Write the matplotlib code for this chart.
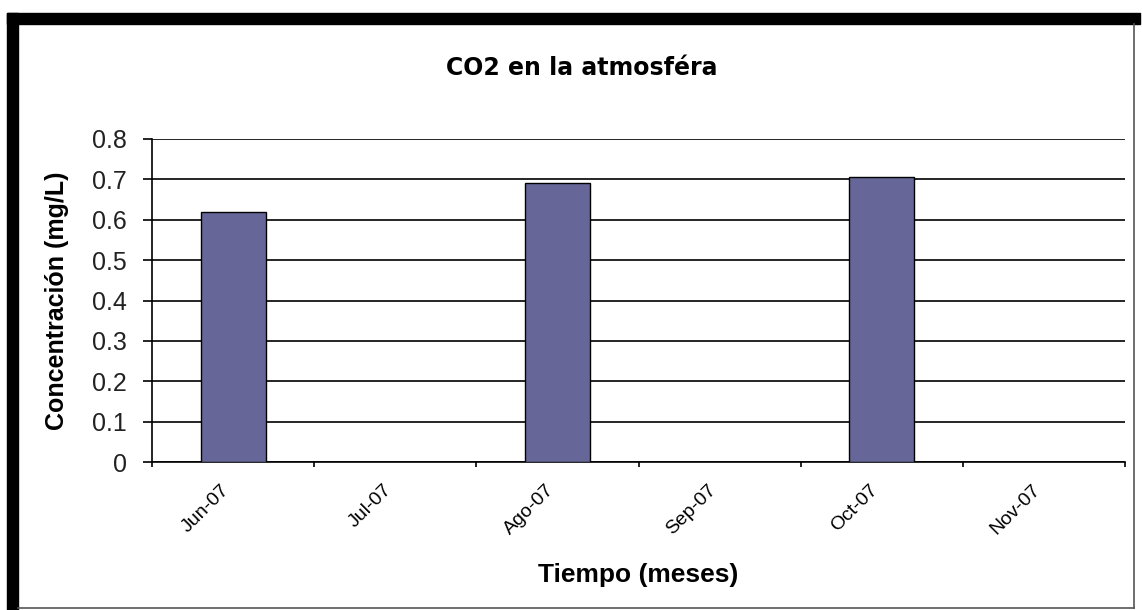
import numpy as np
import matplotlib
matplotlib.use("Agg")
import matplotlib.pyplot as plt
from matplotlib.patches import Rectangle
from matplotlib.lines import Line2D

# data
months = ["Jun-07", "Jul-07", "Ago-07", "Sep-07", "Oct-07", "Nov-07"]
co2 = [0.62, np.nan, 0.69, np.nan, 0.705, np.nan]
yticks = [0, 0.1, 0.2, 0.3, 0.4, 0.5, 0.6, 0.7, 0.8]

W, H = 1142, 610
BAR = "#666699"

fig = plt.figure(figsize=(W / 100, H / 100), dpi=100, facecolor="white")
plt.rcParams["font.family"] = ["Liberation Sans", "DejaVu Sans"]

# frame: thick black top/left, thin grey right/bottom
fig.patches.append(Rectangle((7 / W, 0), 11 / W, (H - 13) / H,
                             transform=fig.transFigure, color="black"))
fig.patches.append(Rectangle((7 / W, (H - 24) / H), (1140 - 7) / W, 11 / H,
                             transform=fig.transFigure, color="black"))
fig.lines.append(Line2D([1134 / W, 1134 / W], [2 / H, (H - 24) / H],
                        transform=fig.transFigure, color="#555555", lw=1.2))
fig.lines.append(Line2D([18 / W, 1134 / W], [2 / H, 2 / H],
                        transform=fig.transFigure, color="#555555", lw=1.2))

ax = fig.add_axes([152 / W, (H - 462) / H, (1125 - 152) / W, (462 - 139) / H])
x = np.arange(len(months))
ax.bar(x, co2, width=0.4, color=BAR, edgecolor="black", linewidth=1.0,
       zorder=3)
ax.set_xlim(-0.5, len(months) - 0.5)
ax.set_ylim(0, 0.8)
ax.set_yticks(yticks)
ax.set_yticklabels([f"{v:g}" for v in yticks], fontsize=18, color="#222222")
ax.yaxis.grid(True, color="black", linewidth=1.2, zorder=0)
ax.set_axisbelow(True)

ax.set_xticks(np.arange(len(months) + 1) - 0.5, minor=False)
ax.set_xticklabels([])
ax.set_xticks(x, minor=True)
ax.set_xticklabels(months, minor=True, rotation=45, ha="right",
                   va="top", fontsize=14)
ax.tick_params(axis="x", which="minor", length=0, pad=14)
ax.tick_params(axis="x", which="major", length=3.6, direction="out",
               width=1.2)
ax.tick_params(axis="y", length=6.5, direction="out", width=1.2, pad=11.5)

for s in ["top", "right"]:
    ax.spines[s].set_visible(False)
for s in ["left", "bottom"]:
    ax.spines[s].set_linewidth(1.2)

fig.text(582 / W, (H - 68) / H, "CO2 en la atmosféra", fontsize=17,
         fontweight="bold", family="DejaVu Sans", ha="center", va="center")
ax.set_ylabel("Concentración (mg/L)", fontsize=18, fontweight="bold")
ax.yaxis.set_label_coords((57 - 152) / (1125 - 152), 0.5)
ax.set_xlabel("Tiempo (meses)", fontsize=19, fontweight="bold")
ax.xaxis.set_label_coords(0.5, -(575 - 462) / (462 - 139))
ax.xaxis.label.set_va("center")
ax.yaxis.label.set_va("center")

fig.savefig("out.png", dpi=100, facecolor="white")
